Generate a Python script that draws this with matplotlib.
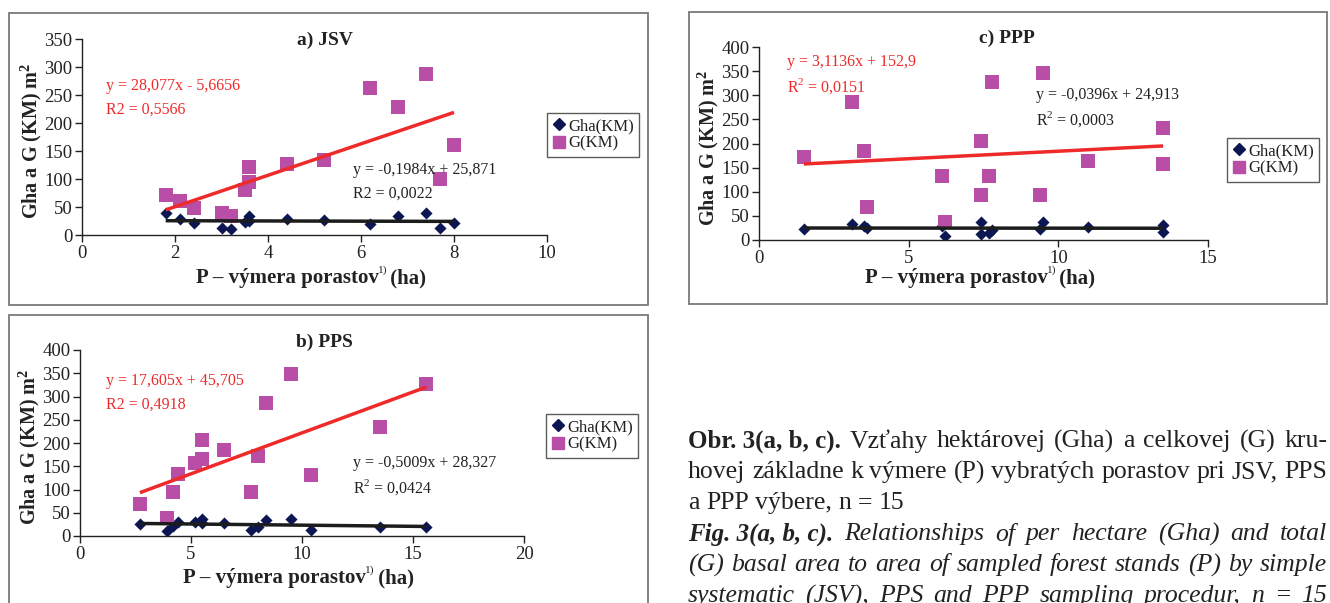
import matplotlib
matplotlib.use("Agg")
import matplotlib.pyplot as plt
from matplotlib.patches import Rectangle
import numpy as np

plt.rcParams['font.family'] = ['Liberation Serif', 'DejaVu Serif']

# ---------------- data ----------------
# a) JSV
a_x_G = [1.8, 2.1, 2.4, 3.0, 3.2, 3.5, 3.6, 3.6, 4.4, 5.2, 6.2, 6.8, 7.4, 8.0, 7.7]
a_G = [71, 60, 49, 39, 34, 80, 94, 121, 127, 134, 262, 228, 287, 160, 100]
a_x_Gha = [1.8, 2.1, 2.4, 3.0, 3.2, 3.5, 3.6, 3.6, 4.4, 5.2, 6.2, 6.8, 7.4, 7.7, 8.0]
a_Gha = [40, 28, 21, 13, 11, 23, 34, 25, 29, 26, 20, 34, 39, 13, 21]
a_trend_G = (28.077, -5.6656)
a_trend_Gha = (-0.1984, 25.871)

# b) PPS
b_x = [2.7, 3.9, 4.2, 4.4, 5.2, 5.5, 5.5, 6.5, 7.7, 8.0, 8.4, 9.5, 10.4, 13.5, 15.6]
b_G = [68, 39, 94, 133, 157, 206, 165, 186, 94, 171, 287, 348, 131, 234, 327]
b_Gha = [25, 11, 22, 31, 30, 37, 28, 28, 12, 20, 34, 36, 12, 19, 20]
b_trend_G = (17.605, 45.705)
b_trend_Gha = (-0.5009, 28.327)

# c) PPP
c_x = [1.5, 3.1, 3.5, 3.6, 6.1, 6.2, 7.4, 7.4, 7.7, 7.8, 9.5, 9.4, 11.0, 13.5, 13.5]
c_G = [172, 287, 185, 69, 133, 38, 206, 93, 133, 328, 346, 94, 164, 233, 157]
c_x_Gha = [1.5, 3.1, 3.5, 3.6, 6.1, 6.2, 7.4, 7.4, 7.7, 7.8, 9.5, 9.4, 11.0, 13.5, 13.5]
c_Gha = [22, 34, 28, 24, 29, 9, 37, 12, 14, 21, 37, 22, 27, 31, 16]
c_trend_G = (3.1136, 152.9)
c_trend_Gha = (-0.0396, 24.913)

series_names = ['Gha(KM)', 'G(KM)']
y_label = 'Gha a G (KM) m$^{\\mathregular{2}}$'
x_label_parts = ('P – výmera porastov', '1)', ' (ha)')

# caption lines: (bold lead, rest, style, justified)
caption_lines = [
    ("Obr. 3(a, b, c).", "Vzťahy hektárovej (Gha) a celkovej (G) kru-", 'normal', True),
    ("", "hovej základne k výmere (P) vybratých porastov pri JSV, PPS", 'normal', True),
    ("", "a PPP výbere, n = 15", 'normal', False),
    ("Fig. 3(a, b, c).", "Relationships of per hectare (Gha) and total", 'italic', True),
    ("", "(G) basal area to area of sampled forest stands (P) by simple", 'italic', True),
    ("", "systematic (JSV), PPS and PPP sampling procedur, n = 15", 'italic', True),
]

# ---------------- layout ----------------
W, H = 1330, 603
fig = plt.figure(figsize=(W / 100, H / 100), dpi=100)
fig.canvas.draw()
renderer = fig.canvas.get_renderer()

def measure(s, fs, weight='normal', style='normal'):
    t = fig.text(0, 0, s, fontsize=fs, fontweight=weight, fontstyle=style)
    w = t.get_window_extent(renderer).width
    t.remove()
    return w

def rect(l, t, r, b):
    return [l / W, 1 - b / H, (r - l) / W, (b - t) / H]

def frame(l, t, r, b):
    fig.add_artist(Rectangle((l / W, 1 - b / H), (r - l) / W, (b - t) / H,
                             transform=fig.transFigure, fill=False,
                             edgecolor='#7a7a7a', linewidth=1.3))

G_COLOR = '#b84ea6'
GHA_COLOR = '#0c1652'
RED = '#ee2a2a'
TXT = '#222222'

def xlabel(cx, cy, fs=15):
    main, sup, tail = x_label_parts
    w1 = measure(main, fs, 'bold')
    w2 = measure(sup, fs * 0.55, 'normal')
    w3 = measure(tail, fs, 'bold')
    x = cx - (w1 + w2 + w3) / 2
    fig.text(x / W, 1 - cy / H, main, fontsize=fs, fontweight='bold',
             ha='left', va='center', color=TXT)
    fig.text((x + w1 - 2) / W, 1 - (cy - 8) / H, sup, fontsize=fs * 0.55,
             ha='left', va='center', color=TXT)
    fig.text((x + w1 + w2 - 3) / W, 1 - cy / H, tail, fontsize=fs, fontweight='bold',
             ha='left', va='center', color=TXT)

def panel(ax_rect, xs_gha, gha, xs_g, g, tr_gha, tr_g, xmax, xstep, ymax, title,
          title_xy, leg_rect, red_txt, red_xy, blk_txt, blk_xy, xlab_y):
    ax = fig.add_axes(rect(*ax_rect))
    ax.scatter(xs_gha, gha, marker='D', s=38, color=GHA_COLOR, zorder=2, linewidths=0)
    ax.scatter(xs_g, g, marker='s', s=88, color=G_COLOR, zorder=3, linewidths=0)
    for (m, c), col in ((tr_g, RED), (tr_gha, '#1c1c1c')):
        xs = np.array([min(xs_g + xs_gha), max(xs_g + xs_gha)])
        ax.plot(xs, m * xs + c, color=col, lw=2.5, zorder=4, solid_capstyle='butt')
    ax.set_xlim(0, xmax)
    ax.set_ylim(0, ymax)
    ax.set_xticks(np.arange(0, xmax + 0.01, xstep))
    ax.set_yticks(np.arange(0, ymax + 0.01, 50))
    for s in ('top', 'right'):
        ax.spines[s].set_visible(False)
    for s in ('left', 'bottom'):
        ax.spines[s].set_color(TXT)
        ax.spines[s].set_linewidth(1.0)
    ax.tick_params(direction='out', length=5, width=1, color=TXT,
                   labelsize=13.5, labelcolor=TXT, pad=2)
    ax.set_facecolor('none')
    fig.text(title_xy[0] / W, 1 - title_xy[1] / H, title, fontsize=14,
             fontweight='bold', ha='center', va='center', color=TXT)
    fig.text((ax_rect[0] - 51) / W,
             1 - ((ax_rect[1] + ax_rect[3]) / 2 + 4) / H, y_label,
             rotation=90, fontsize=14.5, fontweight='bold', ha='center', va='center',
             color=TXT)
    xlabel((ax_rect[0] + ax_rect[2]) / 2 - 2, xlab_y)
    for i, t in enumerate(red_txt):
        fig.text(red_xy[0] / W, 1 - (red_xy[1] + 24 * i) / H, t, fontsize=11.5,
                 color=RED, ha='left', va='center')
    for i, t in enumerate(blk_txt):
        fig.text(blk_xy[0] / W, 1 - (blk_xy[1] + 24 * i) / H, t, fontsize=11.5,
                 color=TXT, ha='left', va='center')
    h1 = plt.Line2D([], [], marker='D', color=GHA_COLOR, ls='none', markersize=6)
    h2 = plt.Line2D([], [], marker='s', color=G_COLOR, ls='none', markersize=9)
    l, t, r, b = leg_rect
    leg = fig.legend([h1, h2], series_names, loc='upper left',
                     bbox_to_anchor=(l / W, 1 - t / H), fontsize=12,
                     frameon=True, fancybox=False, handlelength=0.8,
                     handletextpad=0.2, borderpad=0.3, labelspacing=0.1,
                     borderaxespad=0)
    leg.get_frame().set_edgecolor('#333333')
    leg.get_frame().set_linewidth(1.0)
    for txt in leg.get_texts():
        txt.set_color(TXT)
    return ax

frame(9, 13, 648, 305)
frame(9, 315, 648, 640)
frame(689, 12, 1327, 304)

panel((82, 39, 547, 235), a_x_Gha, a_Gha, a_x_G, a_G, a_trend_Gha, a_trend_G,
      10, 2, 350, 'a) JSV', (325, 40), (547, 113, 639, 156),
      ['y = 28,077x - 5,6656', 'R2 = 0,5566'], (106, 86),
      ['y = -0,1984x + 25,871', 'R2 = 0,0022'], (353, 170), 278)

panel((80, 350, 524, 536), b_x, b_Gha, b_x, b_G, b_trend_Gha, b_trend_G,
      20, 5, 400, 'b) PPS', (324, 342), (546, 414, 638, 457),
      ['y = 17,605x + 45,705', 'R2 = 0,4918'], (106, 381),
      ['y = -0,5009x + 28,327', 'R$^{\\mathregular{2}}$ = 0,0424'], (353, 463), 578)

panel((759, 47, 1208, 240), c_x_Gha, c_Gha, c_x, c_G, c_trend_Gha, c_trend_G,
      15, 5, 400, 'c) PPP', (1007, 38), (1227, 138, 1319, 182),
      ['y = 3,1136x + 152,9', 'R$^{\\mathregular{2}}$ = 0,0151'], (787, 62),
      ['y = -0,0396x + 24,913', 'R$^{\\mathregular{2}}$ = 0,0003'], (1036, 95), 278)

# caption with justification
cap_left, cap_right = 688, 1327
cap_y0, cap_dy = 441, 31.0
ref_line = caption_lines[1][1]
FS = 18 * (cap_right - cap_left) / measure(ref_line, 18)
FS_B = FS * 0.97

for i, (bold, rest, style, justify) in enumerate(caption_lines):
    y = 1 - (cap_y0 + cap_dy * i) / H
    words = []
    if bold:
        words.append((bold, 'bold', FS_B))
    words += [(w, 'normal', FS) for w in rest.split(' ')]
    widths = [measure(w, fs, wt, style) for w, wt, fs in words]
    space = measure('a a', FS, 'normal', style) - measure('aa', FS, 'normal', style)
    if justify and len(words) > 1:
        gap = (cap_right - cap_left - sum(widths)) / (len(words) - 1)
    else:
        gap = space
    x = cap_left
    for (w, wt, fs), wd in zip(words, widths):
        fig.text(x / W, y, w, fontsize=fs, fontweight=wt, fontstyle=style,
                 ha='left', va='center', color=TXT)
        x += wd + gap

fig.savefig('out.png', dpi=100)
